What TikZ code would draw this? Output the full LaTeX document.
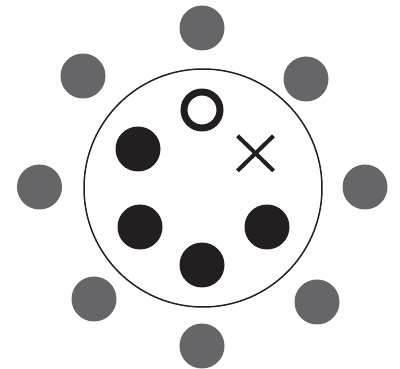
\documentclass[tikz,border=0pt]{standalone}
\definecolor{dotgray}{RGB}{102,102,104}
\definecolor{ink}{RGB}{35,31,32}
\begin{document}
\begin{tikzpicture}[x=1pt,y=-1pt,
  outer/.style={circle,fill=dotgray,minimum size=45pt,inner sep=0pt},
  inner/.style={circle,fill=ink,minimum size=45pt,inner sep=0pt},
  ring/.style={circle,draw=ink,line width=7pt,minimum size=36pt,inner sep=0pt},
  big/.style={circle,draw=ink,line width=1.5pt,minimum size=238pt,inner sep=0pt},
  cross/.style={draw=ink,line width=4pt}]
\useasboundingbox (0,0) rectangle (400,369);
\node[big] (cell) at (203,188) {};
\node[outer] (g1) at (202,28) {};
\node[outer] (g2) at (306,79) {};
\node[outer] (g3) at (365,187) {};
\node[outer] (g4) at (317,302) {};
\node[outer] (g5) at (202,346) {};
\node[outer] (g6) at (94,299) {};
\node[outer] (g7) at (39.5,187) {};
\node[outer] (g8) at (83,76) {};
\node[inner] (b1) at (138,149) {};
\node[inner] (b2) at (140,227) {};
\node[inner] (b3) at (202,265) {};
\node[inner] (b4) at (267,227) {};
\node[ring] (o) at (202,110) {};
\coordinate (xc) at (255.5,153.3);
\draw[cross] ([shift={(-18,-17.5)}]xc) -- ([shift={(18,17.5)}]xc);
\draw[cross] ([shift={(18,-17.5)}]xc) -- ([shift={(-18,17.5)}]xc);
\end{tikzpicture}
\end{document}
